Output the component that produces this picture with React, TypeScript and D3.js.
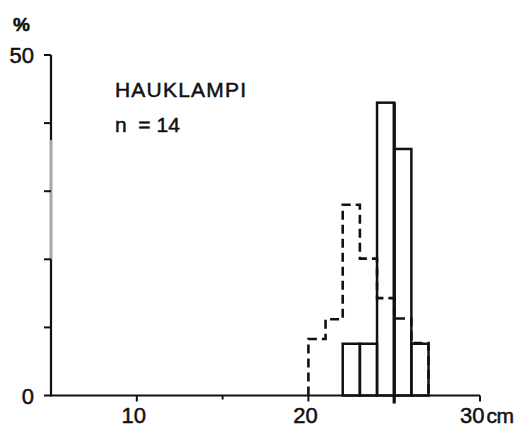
import React from "react";
import * as d3 from "d3";

// Length classes (cm), lower bin edges
const solidBins = [22, 23, 24, 25, 26];
const solidValues = [7.6, 7.6, 43.0, 36.2, 7.6];
const dashedBins = [20, 21, 22, 23, 24, 25, 26];
const dashedValues = [8.3, 11.2, 28.0, 20.1, 14.3, 11.3, 7.7];
const xTickLabels = [10, 20, 30];
const xMinorTicks = [15];
const yTicks = [0, 10, 20, 30, 40, 50];
const yTickLabels = [0, 50];
const markerCm = 25;
const title = "HAUKLAMPI";
const nLabel = "n  = 14";

const W = 529;
const H = 434;
const FONT = "'Liberation Sans', Arial, sans-serif";

export default function App() {
  const x = d3.scaleLinear().domain([5, 30]).range([51, 480]);
  const y = d3.scaleLinear().domain([0, 50]).range([395.5, 55]);
  const y0 = y(0);

  const pts: [number, number][] = [[x(dashedBins[0]), y0]];
  dashedBins.forEach((b, i) => {
    pts.push([x(b), y(dashedValues[i])]);
    pts.push([x(b + 1), y(dashedValues[i])]);
  });
  pts.push([x(dashedBins[dashedBins.length - 1] + 1), y0]);
  const line = d3.line();

  const maxSolid = d3.max(solidValues) as number;
  const txt = { fontFamily: FONT, fill: "#111", stroke: "#111", strokeWidth: 0.5 };

  return (
    <svg width={W} height={H} style={{ position: "absolute", left: 0, top: 0, background: "#fff" }}>
      <rect x={0} y={0} width={W} height={H} fill="#fff" />
      {/* y axis */}
      <line x1={x(5)} x2={x(5)} y1={y(50)} y2={y0 + 1} stroke="#111" strokeWidth={2.2} />
      <line x1={x(5)} x2={x(5)} y1={y(37.5)} y2={y(20)} stroke="#aaa" strokeWidth={2.8} />
      {yTicks.map((t) => (
        <line key={t} x1={x(5) - 7} x2={x(5)} y1={y(t)} y2={y(t)} stroke="#111" strokeWidth={2} />
      ))}
      {yTickLabels.map((t) => (
        <text key={t} x={34} y={y(t) + 8} textAnchor="end" fontSize={22} {...txt}>
          {t}
        </text>
      ))}
      <text x={13} y={31} fontSize={19} fontWeight="bold" {...txt}>%</text>

      {/* x axis */}
      <line x1={x(5)} x2={x(30)} y1={y0} y2={y0} stroke="#111" strokeWidth={2.2} />
      {xTickLabels.map((t) => (
        <line key={t} x1={x(t)} x2={x(t)} y1={y0} y2={y0 + 6} stroke="#111" strokeWidth={2} />
      ))}
      {xMinorTicks.map((t) => (
        <line key={t} x1={x(t)} x2={x(t)} y1={y0} y2={y0 + 4} stroke="#111" strokeWidth={2} />
      ))}
      {xTickLabels.map((t, i) =>
        i < xTickLabels.length - 1 ? (
          <text key={t} x={x(t) - 3} y={423} textAnchor="middle" fontSize={22} {...txt}>
            {t}
          </text>
        ) : (
          <text key={t} x={x(t) - 20} y={423} fontSize={22} {...txt}>
            {t}
            <tspan dx={2} fontSize={21} letterSpacing={-0.5}>cm</tspan>
          </text>
        )
      )}

      {/* dashed histogram */}
      <path
        d={line(pts) || ""}
        fill="none"
        stroke="#111"
        strokeWidth={2.6}
        strokeDasharray="9,5"
      />

      {/* solid histogram */}
      {solidBins.map((b, i) => (
        <rect
          key={b}
          x={x(b)}
          y={y(solidValues[i])}
          width={x(b + 1) - x(b)}
          height={y0 - y(solidValues[i])}
          fill="none"
          stroke="#111"
          strokeWidth={2.5}
        />
      ))}
      <line x1={x(markerCm)} x2={x(markerCm)} y1={y(maxSolid)} y2={y0 + 8} stroke="#111" strokeWidth={3.2} />

      {/* labels */}
      <text x={115} y={97} fontSize={21} letterSpacing={1.2} {...txt}>{title}</text>
      <text x={115} y={132} fontSize={21} xmlSpace="preserve" {...txt}>{nLabel}</text>
    </svg>
  );
}
